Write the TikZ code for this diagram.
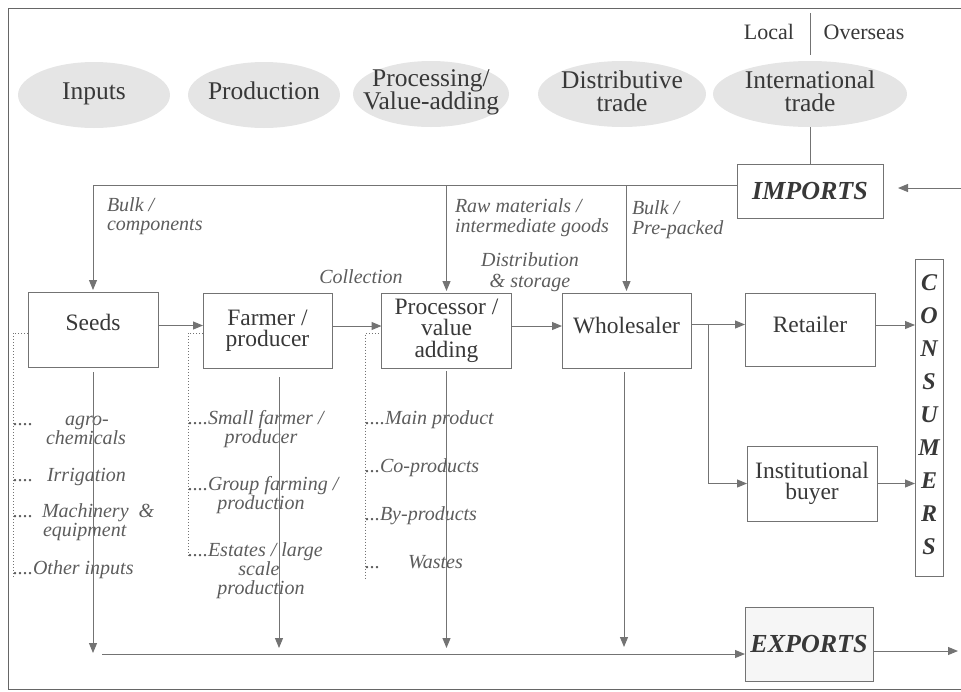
\documentclass[tikz,border=0pt]{standalone}
\usepackage{fontspec}
\setmainfont{Liberation Serif}
\usetikzlibrary{arrows.meta,shapes.geometric}
\definecolor{lncol}{gray}{0.45}
\definecolor{txcol}{gray}{0.22}
\definecolor{lbcol}{gray}{0.36}
\definecolor{ellcol}{gray}{0.9}
\definecolor{frcol}{gray}{0.4}
\begin{document}
\begin{tikzpicture}[x=1pt,y=-1pt,
  every node/.style={inner sep=0pt, outer sep=0pt},
  stageE/.style={ellipse, fill=ellcol, draw=none},
  stageT/.style={text=txcol, font=\fontsize{25.5}{23}\selectfont, anchor=base},
  topT/.style={text=txcol, font=\fontsize{22}{22}\selectfont, anchor=base},
  box/.style={draw=lncol, line width=1pt, text=txcol, align=center, font=\fontsize{23.5}{21.5}\selectfont},
  bigT/.style={font=\bfseries\itshape\fontsize{26}{26}\selectfont},
  lbl/.style={text=lbcol, font=\itshape\fontsize{20}{19}\selectfont, anchor=base west},
  lblc/.style={text=lbcol, font=\itshape\fontsize{20}{19}\selectfont, anchor=base},
  conn/.style={draw=lncol, line width=1pt},
  arr/.style={conn, -{Triangle[length=10pt,width=8pt]}},
  dotln/.style={draw=lncol, line width=1pt, dash pattern=on 1pt off 2pt},
  frame/.style={draw=frcol, line width=1pt}
]
\useasboundingbox (0,0) rectangle (961,691);
\draw[frame] (961,8) -- (8,8) -- (8,689) -- (961,689);

% stage ellipses
\node[stageE, minimum width=152, minimum height=66] (inE) at (94,95) {};
\node[stageE, minimum width=152, minimum height=66] (prE) at (264,95) {};
\node[stageE, minimum width=156, minimum height=66] (pvE) at (431,94) {};
\node[stageE, minimum width=168, minimum height=66] (dtE) at (622,94) {};
\node[stageE, minimum width=194, minimum height=66] (intlE) at (810,94) {};
\node[stageT] (inT) at (94,99) {Inputs};
\node[stageT] (prT) at (264,99) {Production};
\node[stageT] (pvT1) at (431,86) {Processing/};
\node[stageT] (pvT2) at (431,109.5) {Value-adding};
\node[stageT] (dtT1) at (622,88) {Distributive};
\node[stageT] (dtT2) at (622,111.5) {trade};
\node[stageT] (intT1) at (810,88) {International};
\node[stageT] (intT2) at (810,111.5) {trade};

% local / overseas
\node[topT] (local) at (769,39) {Local};
\node[topT] (overseas) at (864,39) {Overseas};
\coordinate (divT) at (810,13);
\coordinate (divB) at (810,55);
\draw[conn] (divT) -- (divB);

% boxes
\node[box, minimum width=130, minimum height=75, text depth=14pt] (seeds) at (93,329.5) {Seeds};
\node[box, minimum width=129, minimum height=75] (farmer) at (267.5,330.5) {Farmer /\\producer};
\node[box, minimum width=130, minimum height=75] (proc) at (446.5,330.5) {Processor /\\value\\adding};
\node[box, minimum width=129, minimum height=75, text depth=10pt] (whole) at (626.5,330.5) {Wholesaler};
\node[box, minimum width=130, minimum height=73, text depth=10pt] (retail) at (810,329.5) {Retailer};
\node[box, minimum width=130, minimum height=75] (inst) at (812,483.5) {Institutional\\buyer};
\node[box, bigT, minimum width=146, minimum height=54] (imports) at (810,191) {IMPORTS};
\node[box, bigT, fill=gray!7, minimum width=128, minimum height=74] (exports) at (809,644) {EXPORTS};
\node[box, minimum width=28, minimum height=317] (cons) at (929,417.5) {};
\node[text=txcol, align=center, font=\bfseries\itshape\fontsize{24}{33}\selectfont] (consT) at (929,415) {C\\O\\N\\S\\U\\M\\E\\R\\S};

% imports connections
\draw[conn] (intlE.south) -- (imports.north);
\coordinate (impin) at (961,188);
\draw[arr, shorten >=15pt] (impin) -- (impin -| imports.east);
\coordinate (busL) at (93,185);
\coordinate (busR) at (imports.west |- busL);
\draw[conn] (busR) -- (busL);
\draw[arr, shorten >=2pt] (busL) -- (seeds.north);
\draw[arr, shorten >=2pt] (proc.north |- busL) -- (proc.north);
\draw[arr, shorten >=2pt] (whole.north |- busL) -- (whole.north);

% chain
\path ([yshift=4pt]seeds.east) coordinate (a1);
\draw[arr] (a1) -- (a1 -| farmer.west);
\path ([yshift=4.5pt]farmer.east) coordinate (a2);
\draw[arr] (a2) -- (a2 -| proc.west);
\path ([yshift=4.5pt]proc.east) coordinate (a3);
\draw[arr] (a3) -- (a3 -| whole.west);
\path ([yshift=6pt]whole.east) coordinate (a4);
\draw[arr] (a4) -- (a4 -| retail.west);
\coordinate (brx) at (708,324.5);
\draw[arr] (brx) |- (inst.west);
\path ([yshift=4.5pt]retail.east) coordinate (a5);
\draw[arr] (a5) -- (a5 -| cons.west);
\draw[arr] (inst.east) -- (inst.east -| cons.west);

% top labels
\node[lbl] (bc1) at (107,211) {Bulk /};
\node[lbl] (bc2) at (107,230) {components};
\node[lbl] (rm1) at (455,212) {Raw materials /};
\node[lbl] (rm2) at (455,232) {intermediate goods};
\node[lbl] (bp1) at (632,214) {Bulk /};
\node[lbl] (bp2) at (632,234) {Pre-packed};
\node[lblc] (coll) at (361,283) {Collection};
\node[lblc] (ds1) at (530,266) {Distribution};
\node[lblc] (ds2) at (530,287) {\& storage};

% dotted brackets
\draw[dotln] (seeds.west |- 0,333) -- (13,333) -- (13,578);
\draw[dotln] (farmer.west |- 0,333) -- (188,333) -- (188,557);
\draw[dotln] (proc.west |- 0,333) -- (365,333) -- (365,580);

% seeds items
\node[lbl] (sd1) at (13,425) {....};
\node[lblc] (sA1) at (87,425) {agro-};
\node[lblc] (sA2) at (86,444) {chemicals};
\node[lbl] (sd2) at (13,481) {....};
\node[lblc] (sB) at (86.5,481) {Irrigation};
\node[lbl] (sd3) at (13,517) {....};
\node[lbl] (sC1) at (42,517) {Machinery\ \ \&};
\node[lbl] (sC2) at (43,536) {equipment};
\node[lbl] (sD) at (13,574) {....Other inputs};

% farmer items
\node[lbl] (fA1) at (188,424) {....Small farmer /};
\node[lblc] (fA2) at (261,443) {producer};
\node[lbl] (fB1) at (188,490) {....Group farming /};
\node[lblc] (fB2) at (261,509) {production};
\node[lbl] (fC1) at (188,556) {....Estates / large};
\node[lblc] (fC2) at (259,575) {scale};
\node[lblc] (fC3) at (261,594) {production};

% processor items
\node[lbl] (pA) at (365,424) {....Main product};
\node[lbl] (pB) at (365,472) {...Co-products};
\node[lbl] (pC) at (365,520) {...By-products};
\node[lbl] (pdD) at (365,568) {...};
\node[lbl] (pD) at (408,568) {Wastes};

% down lines to exports
\coordinate (bot) at (102,654);
\draw[arr, shorten <=5pt, shorten >=1pt] (seeds.south) -- (seeds.south |- bot);
\path ([xshift=11.5pt]farmer.south) coordinate (fs);
\draw[arr, shorten <=9pt, shorten >=6pt] (fs) -- (fs |- bot);
\draw[arr, shorten <=3pt, shorten >=6pt] (proc.south) -- (proc.south |- bot);
\path ([xshift=-2.5pt]whole.south) coordinate (ws);
\draw[arr, shorten <=4pt, shorten >=7pt] (ws) -- (ws |- bot);
\draw[arr] (bot) -- (bot -| exports.west);
\coordinate (expout) at (958,651);
\draw[arr] (exports.east |- expout) -- (expout);
\end{tikzpicture}
\end{document}
